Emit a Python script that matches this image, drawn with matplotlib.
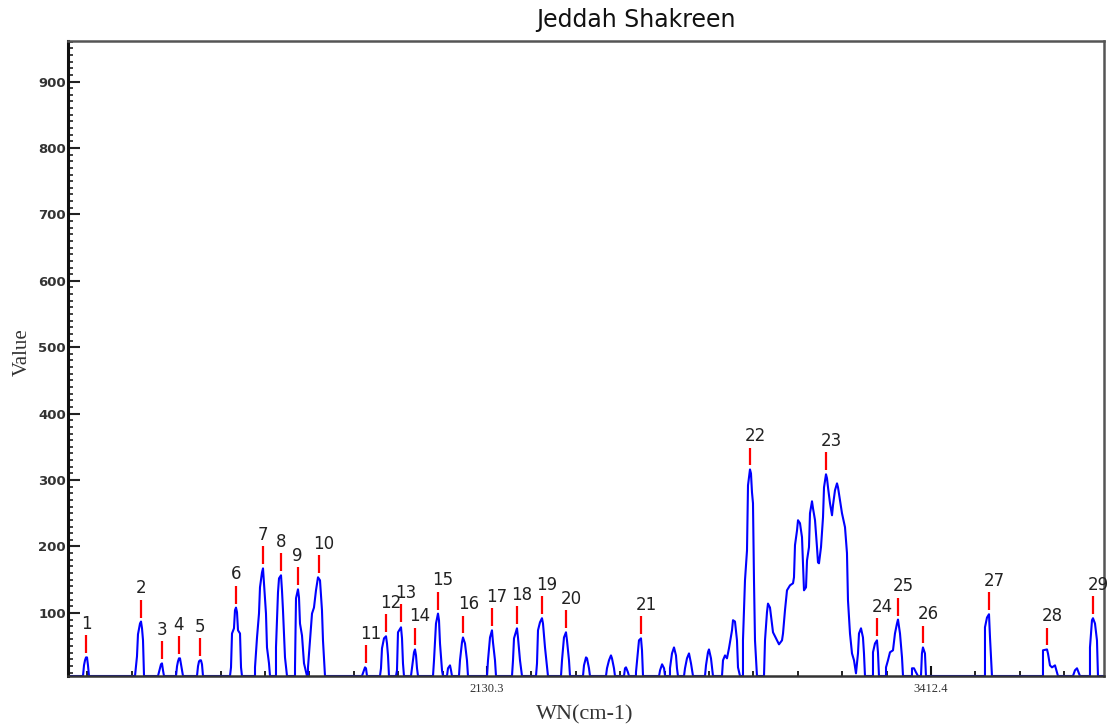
import numpy as np
import matplotlib
matplotlib.use('Agg')
import matplotlib.pyplot as plt
from matplotlib.ticker import MultipleLocator, FixedLocator

# spectrum trace (WN, value)
wn = [920.4,
      963.7, 966.6, 969.5, 972.4, 975.3, 978.1, 981.0,
      1113.9, 1119.6, 1122.5, 1128.3, 1131.2, 1134.1, 1137.0, 1139.9,
      1180.3, 1186.1, 1188.9, 1191.8, 1194.7, 1197.6,
      1232.3, 1235.2, 1238.0, 1240.9, 1243.8, 1246.7, 1249.6, 1252.5,
      1292.9, 1295.8, 1298.7, 1301.6, 1304.4, 1307.3, 1310.2,
      1388.2, 1391.1, 1394.0, 1399.7, 1402.6, 1405.5, 1408.4, 1411.3, 1417.1, 1420.0, 1422.8,
      1460.4, 1460.4, 1466.2, 1471.9, 1474.8, 1480.6, 1483.5, 1486.4, 1492.1, 1495.0, 1500.8, 1503.7,
      1521.0, 1521.0, 1526.8, 1529.7, 1535.5, 1538.3, 1541.2, 1547.0, 1552.8,
      1575.9, 1575.9, 1578.8, 1584.5, 1587.4, 1590.3, 1596.1, 1601.9, 1610.5,
      1613.4, 1613.4, 1619.2, 1625.0, 1630.7, 1636.5, 1642.3, 1648.1, 1653.8, 1656.7, 1662.5,
      1769.3, 1775.1, 1778.0, 1780.9, 1783.8,
      1821.3, 1824.2, 1827.1, 1832.9, 1838.7, 1841.5, 1844.4, 1847.3,
      1867.5, 1870.4, 1873.3, 1882.0, 1884.9, 1887.7, 1890.6,
      1910.8, 1913.7, 1919.5, 1922.4, 1925.3, 1928.2, 1931.1,
      1974.4, 1977.3, 1983.0, 1988.8, 1991.7, 1994.6, 2000.4, 2003.2,
      2014.8, 2017.7, 2023.5, 2026.4, 2029.2,
      2049.4, 2052.3, 2058.1, 2061.0, 2066.8, 2072.5, 2075.4,
      2130.3, 2133.2, 2139.0, 2144.7, 2147.6, 2153.4, 2156.3,
      2202.5, 2205.4, 2208.3, 2216.9, 2219.8, 2225.6, 2231.4,
      2271.8, 2274.7, 2277.6, 2283.3, 2289.1, 2292.0, 2297.8, 2303.6, 2306.4,
      2344.0, 2346.9, 2352.6, 2358.4, 2361.3, 2367.1, 2370.0,
      2407.5, 2410.4, 2416.2, 2419.1, 2424.8, 2427.7,
      2473.9, 2476.8, 2482.6, 2488.3, 2491.2, 2497.0, 2499.9,
      2525.9, 2528.8, 2531.7, 2537.4, 2540.3,
      2560.5, 2560.5, 2566.3, 2569.2, 2575.0, 2577.9, 2580.8,
      2627.2, 2630.1, 2635.9, 2641.6, 2644.5,
      2658.7, 2658.7, 2664.5, 2670.3, 2676.0, 2678.9, 2681.8,
      2699.2, 2702.1, 2707.8, 2713.6, 2719.4, 2725.2,
      2759.8, 2762.7, 2768.4, 2771.3, 2777.1, 2782.9,
      2808.9, 2811.8, 2817.6, 2823.3, 2829.1, 2837.8, 2840.7, 2846.4, 2852.2, 2855.1, 2860.9,
      2869.5, 2869.5, 2875.3, 2881.1, 2884.0, 2889.7, 2892.6, 2895.5, 2898.4, 2901.3, 2904.2, 2909.9,
      2930.2, 2933.1, 2938.8, 2941.7, 2947.5, 2953.3, 2956.2, 2967.7, 2973.5, 2982.2, 2985.1,
      2990.8, 2996.6, 3005.3, 3014.0, 3016.8, 3019.7, 3025.5, 3028.4, 3034.1, 3039.9, 3042.8,
      3045.7, 3051.5, 3054.4, 3060.1, 3063.0, 3068.8, 3071.7, 3077.5, 3083.2, 3086.1, 3089.0,
      3094.8, 3100.6, 3103.5, 3109.2, 3112.1, 3115.0, 3120.8, 3126.6, 3129.4, 3135.2, 3141.0,
      3143.9, 3149.7, 3155.4, 3164.1, 3169.8, 3172.7, 3178.5, 3184.3, 3190.1, 3195.8, 3201.6,
      3204.5, 3210.3, 3216.0, 3218.9, 3221.8,
      3244.9, 3244.9, 3250.7, 3256.4, 3259.3, 3262.2,
      3282.5, 3282.5, 3288.2, 3294.0, 3302.7, 3308.4, 3314.2, 3317.1, 3322.9, 3328.7, 3331.6,
      3357.5, 3357.5, 3363.3, 3369.1, 3374.8,
      3383.5, 3386.3, 3389.2, 3395.0, 3397.9,
      3568.3, 3568.3, 3574.1, 3579.9, 3582.8, 3588.5,
      3735.8, 3735.8, 3747.4, 3750.2, 3756.0, 3761.8, 3770.5, 3776.2, 3779.1,
      3822.4, 3828.2, 3834.0, 3842.6,
      3871.5, 3871.5, 3877.3, 3880.2, 3886.0, 3891.7, 3894.6,
      3912.0]

val = [5,
       5, 21, 28.6, 33, 33, 21, 5,
       5, 34.6, 67.8, 84, 87, 76.8, 58.7, 5,
       5, 16.6, 22.6, 24, 13.6, 5,
       5, 19.6, 27, 31.6, 31.6, 22.6, 13.6, 5,
       5, 19.6, 27, 28.6, 28.6, 22.6, 5,
       5, 18, 69, 76.8, 104, 108, 101, 73.8, 69, 18, 5,
       5, 18, 63, 99, 138.5, 161, 167, 144.6, 99, 48, 24, 5,
       5, 48, 131, 152, 156.6, 134, 104, 33, 5,
       5, 18, 122, 135.5, 123.5, 84, 66, 24, 5,
       5, 18, 58.7, 99, 108, 134, 153.6, 149, 104, 58.7, 5,
       5, 13.6, 18, 16.6, 5,
       5, 16.6, 46.7, 61.7, 64.8, 54, 36, 5,
       5, 13.6, 70.8, 78.3, 61.7, 24, 5,
       5, 16.6, 40.7, 45, 36, 16.6, 5,
       5, 28.6, 84, 99, 89, 54, 13.6, 5,
       5, 16.6, 21, 13.6, 5,
       5, 28.6, 55.7, 63, 54, 28.6, 5,
       5, 28.6, 63, 73.8, 55.7, 28.6, 5,
       5, 28.6, 61.7, 76.8, 63, 28.6, 5,
       5, 24, 73.8, 85.8, 92, 84, 48, 18, 5,
       5, 28.6, 63, 70.8, 58.7, 28.6, 5,
       5, 21, 33, 31.6, 16.6, 5,
       5, 16.6, 28.6, 36, 31.6, 16.6, 5,
       5, 16.6, 18, 10.5, 5,
       5, 10.5, 43.7, 58.7, 61.7, 43.7, 5,
       5, 13.6, 22.6, 16.6, 5,
       5, 16.6, 39, 48, 36, 16.6, 5,
       5, 16.6, 31.6, 39, 24, 5,
       5, 21, 40.7, 45, 31.6, 5,
       5, 28.6, 36, 31.6, 46.7, 73.8, 89, 87, 58.7, 18, 5,
       5, 58.7, 149, 194, 292, 316, 310, 281.6, 265, 149, 58.7, 5,
       5, 58.7, 101, 114, 108, 84, 70.8, 58.7, 52.7, 58.7, 69,
       104, 134, 141.5, 144.6, 153.6, 202, 224, 239.5, 235, 214, 174.7,
       134, 138.5, 179, 199, 250, 268, 257.5, 239.5, 199, 176, 174.7,
       199, 244, 289, 308.7, 302.7, 289, 265, 247, 262, 284.6, 295,
       289, 269.6, 250, 229, 190, 119, 69, 39, 28.6, 9, 39,
       69, 76.8, 63, 39, 5,
       5, 40.7, 54, 58.7, 40.7, 5,
       5, 18, 28.6, 40.7, 43.7, 69, 84, 90, 69, 33, 5,
       5, 16.6, 16.6, 10.5, 5,
       5, 39, 48, 39, 5,
       5, 78.3, 93, 98, 63, 5,
       5, 43.7, 45, 39, 21, 18, 21, 10.5, 5,
       5, 13.6, 16.6, 5,
       5, 48, 89, 92, 84, 58.7, 5,
       5]

# marked peaks
peak_no = [str(i) for i in range(1, 30)]
peak_wn = [973.8, 1131.2, 1191.8, 1240.9, 1303.0, 1405.5, 1484.9, 1535.5, 1584.5, 1645.2,
           1779.5, 1838.7, 1882.0, 1922.4, 1987.4, 2062.4, 2144.7, 2216.9, 2289.1, 2358.4,
           2575.0, 2891.2, 3109.2, 3256.4, 3317.1, 3390.7, 3579.9, 3747.4, 3881.6]
peak_val = [33, 87, 24, 32, 29, 108, 167, 157, 136, 154,
            18, 65, 80, 45, 99, 63, 74, 77, 92, 71,
            62, 316, 309, 59, 90, 48, 98, 45, 92]

xlabels = ['2130.3', '3412.4']
xlabel_pos = [2130.3, 3412.4]

fig = plt.figure(figsize=(11.15, 7.28), dpi=100)
ax = fig.add_axes([68 / 1115, 52 / 728, 1036 / 1115, 635 / 728])

ax.plot(wn, val, color='#0000ff', lw=1.5, zorder=2)

ax.vlines(peak_wn, np.array(peak_val) + 6, np.array(peak_val) + 33, color='#ff0000', lw=1.6, zorder=3)
for n, x, y in zip(peak_no, peak_wn, peak_val):
    ax.annotate(n, (x, y + 50), xytext=(-4, 0), textcoords='offset points',
                ha='left', va='center', fontsize=12, color='#222222', zorder=4,
                annotation_clip=False)

ax.set_xlim(920.4, 3912.0)
ax.set_ylim(5, 961)

ax.yaxis.set_major_locator(FixedLocator(range(100, 1000, 100)))
ax.yaxis.set_minor_locator(MultipleLocator(10))
ax.tick_params(axis='y', which='major', direction='in', length=8.5, width=1.5, color='#222222',
               pad=1.5, labelsize=9.5, labelcolor='#333333')
ax.tick_params(axis='y', which='minor', direction='in', length=3.6, width=1.2, color='#222222')
for t in ax.get_yticklabels():
    t.set_fontweight('bold')

ax.set_xticks(xlabel_pos)
ax.set_xticklabels(xlabels, family='Liberation Serif', fontsize=9, color='#333333')
ax.set_xticks(np.arange(2130.3 - 9 * 128.21, 3912, 128.21), minor=True)
ax.tick_params(axis='x', which='major', direction='in', length=7, width=1.5, color='#111111', pad=5)
ax.tick_params(axis='x', which='minor', direction='in', length=3.6, width=1.3, color='#111111')

ax.spines['left'].set_linewidth(2.2)
ax.spines['left'].set_color('#111111')
ax.spines['bottom'].set_linewidth(1.8)
ax.spines['bottom'].set_color('#333333')
for s in ['top', 'right']:
    ax.spines[s].set_linewidth(1.8)
    ax.spines[s].set_color('#555555')

fig.text(636 / 1115, 1 - 20 / 728, 'Jeddah Shakreen', ha='center', va='center',
         family='DejaVu Sans', fontsize=17, color='#111111')
fig.text(585 / 1115, 1 - 715 / 728, 'WN(cm-1)', ha='center', va='center',
         family='Liberation Serif', fontsize=16, color='#333333')
fig.text(22 / 1115, 1 - 352 / 728, 'Value', ha='center', va='center', rotation=90,
         family='Liberation Serif', fontsize=15, color='#333333')

fig.savefig('out.png', dpi=100)
